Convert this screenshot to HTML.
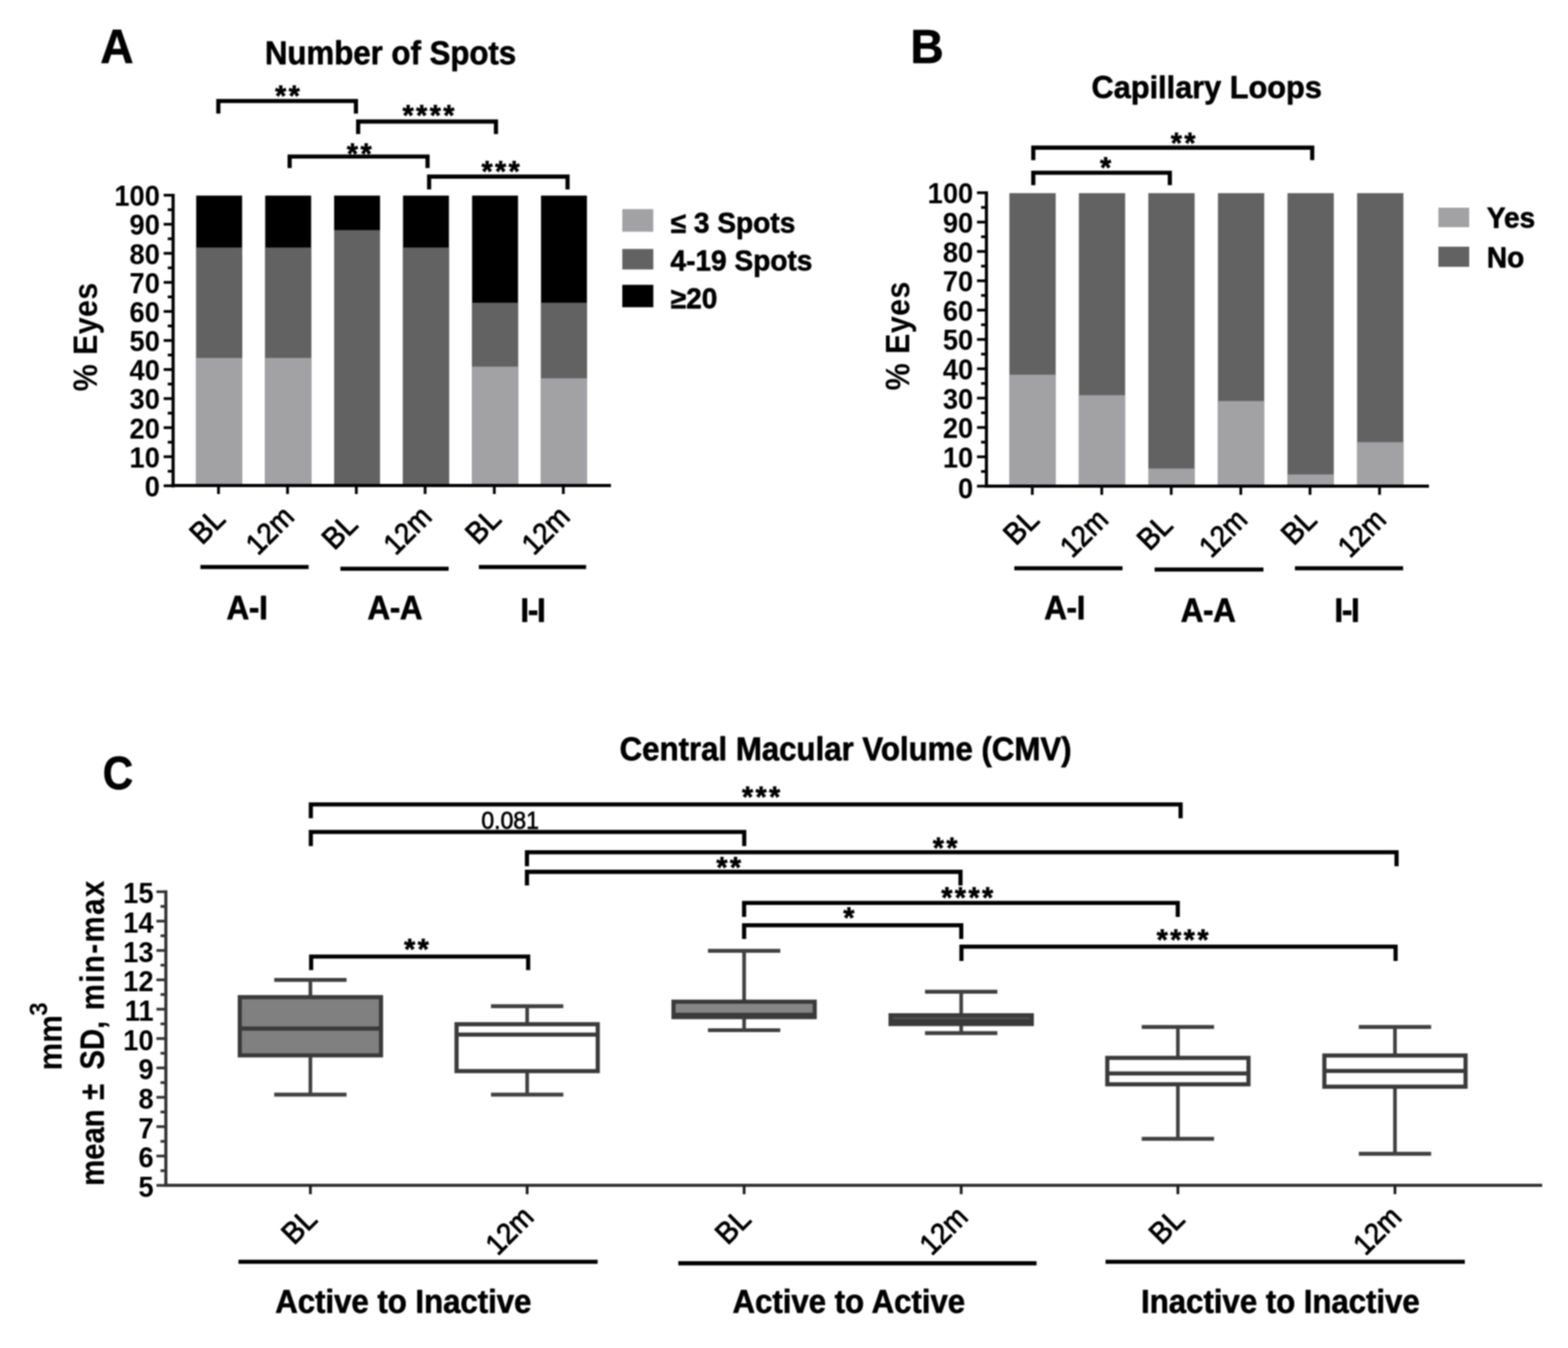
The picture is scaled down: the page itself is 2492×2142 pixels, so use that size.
<!DOCTYPE html>
<html lang="en">
<head>
<meta charset="utf-8">
<title>Figure: Number of Spots, Capillary Loops, Central Macular Volume</title>
<style>
html,body{margin:0;padding:0;background:#fff;}
body{width:2492px;height:2142px;overflow:hidden;}
svg{display:block;font-family:"Liberation Sans",Arial,Helvetica,sans-serif;font-weight:bold;fill:#000;filter:blur(0.8px);}
text{stroke:#000;stroke-width:0.9px;stroke-linejoin:round;}
</style>
</head>
<body>
<svg width="2492" height="2142" viewBox="0 0 2492 2142" role="img" aria-label="Figure with panels A, B and C">
<rect x="0" y="0" width="2492" height="2142" fill="#fff"/>
<g id="panel-a">
<text transform="translate(159.6 99.5) scale(1 1.04)" font-size="73">A</text>
<text transform="translate(620.7 102.2) scale(1 1.04)" font-size="49.6" text-anchor="middle">Number of Spots</text>
<rect x="311.8" y="310.8" width="73" height="461.1" fill="#000"/>
<rect x="311.8" y="393.31" width="73" height="378.59" fill="#626262"/>
<rect x="311.8" y="568.75" width="73" height="203.15" fill="#a2a2a5"/>
<rect x="421.5" y="310.8" width="73" height="461.1" fill="#000"/>
<rect x="421.5" y="393.31" width="73" height="378.59" fill="#626262"/>
<rect x="421.5" y="568.75" width="73" height="203.15" fill="#a2a2a5"/>
<rect x="531" y="310.8" width="73" height="461.1" fill="#000"/>
<rect x="531" y="365.6" width="73" height="406.3" fill="#626262"/>
<rect x="640.5" y="310.8" width="73" height="461.1" fill="#000"/>
<rect x="640.5" y="393.31" width="73" height="378.59" fill="#626262"/>
<rect x="750.3" y="310.8" width="73" height="461.1" fill="#000"/>
<rect x="750.3" y="481.03" width="73" height="290.87" fill="#626262"/>
<rect x="750.3" y="582.6" width="73" height="189.3" fill="#a2a2a5"/>
<rect x="859.8" y="310.8" width="73" height="461.1" fill="#000"/>
<rect x="859.8" y="481.03" width="73" height="290.87" fill="#626262"/>
<rect x="859.8" y="601.07" width="73" height="170.83" fill="#a2a2a5"/>
<line x1="275.1" y1="308" x2="275.1" y2="774.4" stroke="#000" stroke-width="5"/>
<line x1="260.1" y1="771.9" x2="275.1" y2="771.9" stroke="#000" stroke-width="4.4"/>
<text transform="translate(254.1 789.37) scale(1 1.07)" font-size="43.4" text-anchor="end" style="stroke-width:0px">0</text>
<line x1="266.6" y1="748.81" x2="275.1" y2="748.81" stroke="#000" stroke-width="4.4"/>
<line x1="260.1" y1="725.73" x2="275.1" y2="725.73" stroke="#000" stroke-width="4.4"/>
<text transform="translate(254.1 742.7) scale(1 1.07)" font-size="43.4" text-anchor="end" style="stroke-width:0px">10</text>
<line x1="266.6" y1="702.64" x2="275.1" y2="702.64" stroke="#000" stroke-width="4.4"/>
<line x1="260.1" y1="679.56" x2="275.1" y2="679.56" stroke="#000" stroke-width="4.4"/>
<text transform="translate(254.1 696.53) scale(1 1.07)" font-size="43.4" text-anchor="end" style="stroke-width:0px">20</text>
<line x1="266.6" y1="656.47" x2="275.1" y2="656.47" stroke="#000" stroke-width="4.4"/>
<line x1="260.1" y1="633.39" x2="275.1" y2="633.39" stroke="#000" stroke-width="4.4"/>
<text transform="translate(254.1 650.36) scale(1 1.07)" font-size="43.4" text-anchor="end" style="stroke-width:0px">30</text>
<line x1="266.6" y1="610.3" x2="275.1" y2="610.3" stroke="#000" stroke-width="4.4"/>
<line x1="260.1" y1="587.22" x2="275.1" y2="587.22" stroke="#000" stroke-width="4.4"/>
<text transform="translate(254.1 604.19) scale(1 1.07)" font-size="43.4" text-anchor="end" style="stroke-width:0px">40</text>
<line x1="266.6" y1="564.13" x2="275.1" y2="564.13" stroke="#000" stroke-width="4.4"/>
<line x1="260.1" y1="541.05" x2="275.1" y2="541.05" stroke="#000" stroke-width="4.4"/>
<text transform="translate(254.1 558.02) scale(1 1.07)" font-size="43.4" text-anchor="end" style="stroke-width:0px">50</text>
<line x1="266.6" y1="517.96" x2="275.1" y2="517.96" stroke="#000" stroke-width="4.4"/>
<line x1="260.1" y1="494.88" x2="275.1" y2="494.88" stroke="#000" stroke-width="4.4"/>
<text transform="translate(254.1 511.85) scale(1 1.07)" font-size="43.4" text-anchor="end" style="stroke-width:0px">60</text>
<line x1="266.6" y1="471.8" x2="275.1" y2="471.8" stroke="#000" stroke-width="4.4"/>
<line x1="260.1" y1="448.71" x2="275.1" y2="448.71" stroke="#000" stroke-width="4.4"/>
<text transform="translate(254.1 465.68) scale(1 1.07)" font-size="43.4" text-anchor="end" style="stroke-width:0px">70</text>
<line x1="266.6" y1="425.62" x2="275.1" y2="425.62" stroke="#000" stroke-width="4.4"/>
<line x1="260.1" y1="402.54" x2="275.1" y2="402.54" stroke="#000" stroke-width="4.4"/>
<text transform="translate(254.1 419.51) scale(1 1.07)" font-size="43.4" text-anchor="end" style="stroke-width:0px">80</text>
<line x1="266.6" y1="379.45" x2="275.1" y2="379.45" stroke="#000" stroke-width="4.4"/>
<line x1="260.1" y1="356.37" x2="275.1" y2="356.37" stroke="#000" stroke-width="4.4"/>
<text transform="translate(254.1 373.34) scale(1 1.07)" font-size="43.4" text-anchor="end" style="stroke-width:0px">90</text>
<line x1="266.6" y1="333.28" x2="275.1" y2="333.28" stroke="#000" stroke-width="4.4"/>
<line x1="260.1" y1="310.2" x2="275.1" y2="310.2" stroke="#000" stroke-width="4.4"/>
<text transform="translate(254.1 327.17) scale(1 1.07)" font-size="43.4" text-anchor="end" style="stroke-width:0px">100</text>
<line x1="272.6" y1="771.5" x2="971" y2="771.5" stroke="#000" stroke-width="5"/>
<line x1="347.3" y1="771" x2="347.3" y2="785" stroke="#000" stroke-width="4.4"/>
<text transform="translate(360.7 827.5) rotate(-45) scale(1 1.04)" font-size="46" font-weight="normal" text-anchor="end" style="stroke-width:1.3px">BL</text>
<line x1="457" y1="771" x2="457" y2="785" stroke="#000" stroke-width="4.4"/>
<text transform="translate(469.9 824) rotate(-45) scale(1 1.07)" font-size="43.5" font-weight="normal" text-anchor="end" style="stroke-width:1.3px">12m</text>
<line x1="566.3" y1="771" x2="566.3" y2="785" stroke="#000" stroke-width="4.4"/>
<text transform="translate(571.1 836.1) rotate(-45) scale(1 1.04)" font-size="46" font-weight="normal" text-anchor="end" style="stroke-width:1.3px">BL</text>
<line x1="675.6" y1="771" x2="675.6" y2="785" stroke="#000" stroke-width="4.4"/>
<text transform="translate(688.5 824) rotate(-45) scale(1 1.07)" font-size="43.5" font-weight="normal" text-anchor="end" style="stroke-width:1.3px">12m</text>
<line x1="785.6" y1="771" x2="785.6" y2="785" stroke="#000" stroke-width="4.4"/>
<text transform="translate(799 827.5) rotate(-45) scale(1 1.04)" font-size="46" font-weight="normal" text-anchor="end" style="stroke-width:1.3px">BL</text>
<line x1="895.3" y1="771" x2="895.3" y2="785" stroke="#000" stroke-width="4.4"/>
<text transform="translate(908.2 824) rotate(-45) scale(1 1.07)" font-size="43.5" font-weight="normal" text-anchor="end" style="stroke-width:1.3px">12m</text>
<text transform="translate(154 535.2) rotate(-90) scale(1 1.11)" font-size="48.4" text-anchor="middle" letter-spacing="0.6" style="stroke-width:0px">% Eyes</text>
<path d="M347 180.5 V160.5 H565.7 V180.5" fill="none" stroke="#000" stroke-width="6.6"/>
<text x="437.23" y="167.59" font-size="45.5" letter-spacing="3.9">**</text>
<path d="M569.2 213 V193.1 H788.2 V213" fill="none" stroke="#000" stroke-width="6.6"/>
<text x="639.73" y="199.19" font-size="45.5" letter-spacing="3.9">****</text>
<path d="M460.3 267 V248.8 H679.5 V267" fill="none" stroke="#000" stroke-width="6.6"/>
<text x="551.33" y="260" font-size="45.5" letter-spacing="3.9">**</text>
<path d="M682 301 V280.6 H902 V301" fill="none" stroke="#000" stroke-width="6.6"/>
<text x="765.13" y="288" font-size="45.5" letter-spacing="3.9">***</text>
<rect x="989" y="332.3" width="49.3" height="36" fill="#a2a2a5"/>
<rect x="989" y="395.6" width="49.3" height="32.6" fill="#626262"/>
<rect x="989" y="452.6" width="49.3" height="35.6" fill="#000"/>
<text transform="translate(1066 369.6) scale(1 1.04)" font-size="44.6">≤ 3 Spots</text>
<text transform="translate(1065.6 429.6) scale(1 1.04)" font-size="44.6">4-19 Spots</text>
<text transform="translate(1066 489.6) scale(1 1.04)" font-size="44.6">≥20</text>
<line x1="318.5" y1="901" x2="490.5" y2="901" stroke="#000" stroke-width="6.4"/>
<text transform="translate(392.5 984) scale(1 1.07)" font-size="50" text-anchor="middle" letter-spacing="-0.6">A-I</text>
<line x1="541" y1="903.7" x2="713" y2="903.7" stroke="#000" stroke-width="6.4"/>
<text transform="translate(627.5 984) scale(1 1.07)" font-size="50" text-anchor="middle" letter-spacing="-0.6">A-A</text>
<line x1="761" y1="901" x2="931.5" y2="901" stroke="#000" stroke-width="6.4"/>
<text transform="translate(846.2 987.5) scale(1 1.07)" font-size="50" text-anchor="middle" letter-spacing="-2">I-I</text>
</g>
<g id="panel-b">
<text transform="translate(1447 99.5) scale(1 1.04)" font-size="73">B</text>
<text transform="translate(1917.8 156) scale(1 1.04)" font-size="48.8" text-anchor="middle">Capillary Loops</text>
<rect x="1604.2" y="306.9" width="73.6" height="465.6" fill="#626262"/>
<rect x="1604.2" y="595.34" width="73.6" height="177.16" fill="#a2a2a5"/>
<rect x="1714.6" y="306.9" width="73.6" height="465.6" fill="#626262"/>
<rect x="1714.6" y="627.98" width="73.6" height="144.52" fill="#a2a2a5"/>
<rect x="1825" y="306.9" width="73.6" height="465.6" fill="#626262"/>
<rect x="1825" y="744.53" width="73.6" height="27.97" fill="#a2a2a5"/>
<rect x="1935.6" y="306.9" width="73.6" height="465.6" fill="#626262"/>
<rect x="1935.6" y="637.3" width="73.6" height="135.2" fill="#a2a2a5"/>
<rect x="2046.2" y="306.9" width="73.6" height="465.6" fill="#626262"/>
<rect x="2046.2" y="753.85" width="73.6" height="18.65" fill="#a2a2a5"/>
<rect x="2156.8" y="306.9" width="73.6" height="465.6" fill="#626262"/>
<rect x="2156.8" y="702.57" width="73.6" height="69.93" fill="#a2a2a5"/>
<line x1="1567.7" y1="304.1" x2="1567.7" y2="775" stroke="#000" stroke-width="5"/>
<line x1="1552.7" y1="772.5" x2="1567.7" y2="772.5" stroke="#000" stroke-width="4.4"/>
<text transform="translate(1546.7 792.47) scale(1 1.07)" font-size="43.4" text-anchor="end" style="stroke-width:0px">0</text>
<line x1="1559.2" y1="749.19" x2="1567.7" y2="749.19" stroke="#000" stroke-width="4.4"/>
<line x1="1552.7" y1="725.88" x2="1567.7" y2="725.88" stroke="#000" stroke-width="4.4"/>
<text transform="translate(1546.7 742.95) scale(1 1.07)" font-size="43.4" text-anchor="end" style="stroke-width:0px">10</text>
<line x1="1559.2" y1="702.57" x2="1567.7" y2="702.57" stroke="#000" stroke-width="4.4"/>
<line x1="1552.7" y1="679.26" x2="1567.7" y2="679.26" stroke="#000" stroke-width="4.4"/>
<text transform="translate(1546.7 696.33) scale(1 1.07)" font-size="43.4" text-anchor="end" style="stroke-width:0px">20</text>
<line x1="1559.2" y1="655.95" x2="1567.7" y2="655.95" stroke="#000" stroke-width="4.4"/>
<line x1="1552.7" y1="632.64" x2="1567.7" y2="632.64" stroke="#000" stroke-width="4.4"/>
<text transform="translate(1546.7 649.71) scale(1 1.07)" font-size="43.4" text-anchor="end" style="stroke-width:0px">30</text>
<line x1="1559.2" y1="609.33" x2="1567.7" y2="609.33" stroke="#000" stroke-width="4.4"/>
<line x1="1552.7" y1="586.02" x2="1567.7" y2="586.02" stroke="#000" stroke-width="4.4"/>
<text transform="translate(1546.7 603.09) scale(1 1.07)" font-size="43.4" text-anchor="end" style="stroke-width:0px">40</text>
<line x1="1559.2" y1="562.71" x2="1567.7" y2="562.71" stroke="#000" stroke-width="4.4"/>
<line x1="1552.7" y1="539.4" x2="1567.7" y2="539.4" stroke="#000" stroke-width="4.4"/>
<text transform="translate(1546.7 556.47) scale(1 1.07)" font-size="43.4" text-anchor="end" style="stroke-width:0px">50</text>
<line x1="1559.2" y1="516.09" x2="1567.7" y2="516.09" stroke="#000" stroke-width="4.4"/>
<line x1="1552.7" y1="492.78" x2="1567.7" y2="492.78" stroke="#000" stroke-width="4.4"/>
<text transform="translate(1546.7 509.85) scale(1 1.07)" font-size="43.4" text-anchor="end" style="stroke-width:0px">60</text>
<line x1="1559.2" y1="469.47" x2="1567.7" y2="469.47" stroke="#000" stroke-width="4.4"/>
<line x1="1552.7" y1="446.16" x2="1567.7" y2="446.16" stroke="#000" stroke-width="4.4"/>
<text transform="translate(1546.7 463.23) scale(1 1.07)" font-size="43.4" text-anchor="end" style="stroke-width:0px">70</text>
<line x1="1559.2" y1="422.85" x2="1567.7" y2="422.85" stroke="#000" stroke-width="4.4"/>
<line x1="1552.7" y1="399.54" x2="1567.7" y2="399.54" stroke="#000" stroke-width="4.4"/>
<text transform="translate(1546.7 416.61) scale(1 1.07)" font-size="43.4" text-anchor="end" style="stroke-width:0px">80</text>
<line x1="1559.2" y1="376.23" x2="1567.7" y2="376.23" stroke="#000" stroke-width="4.4"/>
<line x1="1552.7" y1="352.92" x2="1567.7" y2="352.92" stroke="#000" stroke-width="4.4"/>
<text transform="translate(1546.7 369.99) scale(1 1.07)" font-size="43.4" text-anchor="end" style="stroke-width:0px">90</text>
<line x1="1559.2" y1="329.61" x2="1567.7" y2="329.61" stroke="#000" stroke-width="4.4"/>
<line x1="1552.7" y1="306.3" x2="1567.7" y2="306.3" stroke="#000" stroke-width="4.4"/>
<text transform="translate(1546.7 323.37) scale(1 1.07)" font-size="43.4" text-anchor="end" style="stroke-width:0px">100</text>
<line x1="1565.2" y1="772.4" x2="2271" y2="772.4" stroke="#000" stroke-width="5"/>
<line x1="1640.6" y1="772.3" x2="1640.6" y2="786.3" stroke="#000" stroke-width="4.4"/>
<text transform="translate(1654 828.8) rotate(-45) scale(1 1.04)" font-size="46" font-weight="normal" text-anchor="end" style="stroke-width:1.3px">BL</text>
<line x1="1751" y1="772.3" x2="1751" y2="786.3" stroke="#000" stroke-width="4.4"/>
<text transform="translate(1763.9 828.3) rotate(-45) scale(1 1.07)" font-size="43.5" font-weight="normal" text-anchor="end" style="stroke-width:1.3px">12m</text>
<line x1="1861.4" y1="772.3" x2="1861.4" y2="786.3" stroke="#000" stroke-width="4.4"/>
<text transform="translate(1866.4 837.2) rotate(-45) scale(1 1.04)" font-size="46" font-weight="normal" text-anchor="end" style="stroke-width:1.3px">BL</text>
<line x1="1972" y1="772.3" x2="1972" y2="786.3" stroke="#000" stroke-width="4.4"/>
<text transform="translate(1984.9 828.3) rotate(-45) scale(1 1.07)" font-size="43.5" font-weight="normal" text-anchor="end" style="stroke-width:1.3px">12m</text>
<line x1="2082" y1="772.3" x2="2082" y2="786.3" stroke="#000" stroke-width="4.4"/>
<text transform="translate(2095.4 828.8) rotate(-45) scale(1 1.04)" font-size="46" font-weight="normal" text-anchor="end" style="stroke-width:1.3px">BL</text>
<line x1="2192.5" y1="772.3" x2="2192.5" y2="786.3" stroke="#000" stroke-width="4.4"/>
<text transform="translate(2205.4 828.3) rotate(-45) scale(1 1.07)" font-size="43.5" font-weight="normal" text-anchor="end" style="stroke-width:1.3px">12m</text>
<text transform="translate(1445 533.6) rotate(-90) scale(1 1.11)" font-size="48.4" text-anchor="middle" letter-spacing="0.6" style="stroke-width:0px">% Eyes</text>
<path d="M1642.2 254.5 V234.6 H2085.5 V254.5" fill="none" stroke="#000" stroke-width="6.6"/>
<text x="1860.63" y="242.69" font-size="45.5" letter-spacing="3.9">**</text>
<path d="M1642.2 294.3 V274.5 H1859.2 V294.3" fill="none" stroke="#000" stroke-width="6.6"/>
<text x="1748.33" y="281.59" font-size="45.5" letter-spacing="3.9">*</text>
<rect x="2286" y="330" width="49" height="31" fill="#a2a2a5"/>
<rect x="2286" y="392" width="49" height="32" fill="#626262"/>
<text transform="translate(2363 361.5) scale(1 1.04)" font-size="44.6">Yes</text>
<text transform="translate(2363 424.5) scale(1 1.04)" font-size="44.6">No</text>
<line x1="1612" y1="903" x2="1784" y2="903" stroke="#000" stroke-width="6.4"/>
<text transform="translate(1692 984) scale(1 1.07)" font-size="50" text-anchor="middle" letter-spacing="-0.6">A-I</text>
<line x1="1835" y1="905" x2="2008" y2="905" stroke="#000" stroke-width="6.4"/>
<text transform="translate(1920 988) scale(1 1.07)" font-size="50" text-anchor="middle" letter-spacing="-0.6">A-A</text>
<line x1="2058" y1="903" x2="2230" y2="903" stroke="#000" stroke-width="6.4"/>
<text transform="translate(2140 988) scale(1 1.07)" font-size="50" text-anchor="middle" letter-spacing="-2">I-I</text>
</g>
<g id="panel-c">
<text transform="translate(163.2 1254) scale(1 1.12)" font-size="67">C</text>
<text transform="translate(1343.9 1207.6) scale(1 1.04)" font-size="49.6" text-anchor="middle">Central Macular Volume (CMV)</text>
<line x1="263.6" y1="1414.8" x2="263.6" y2="1886.1" stroke="#333" stroke-width="5"/>
<line x1="248.6" y1="1883.6" x2="263.6" y2="1883.6" stroke="#333" stroke-width="4.4"/>
<text transform="translate(244.1 1901.97) scale(1 1.07)" font-size="43.4" text-anchor="end" style="stroke-width:0px">5</text>
<line x1="255.1" y1="1860.27" x2="263.6" y2="1860.27" stroke="#333" stroke-width="4.4"/>
<line x1="248.6" y1="1836.94" x2="263.6" y2="1836.94" stroke="#333" stroke-width="4.4"/>
<text transform="translate(244.1 1855.31) scale(1 1.07)" font-size="43.4" text-anchor="end" style="stroke-width:0px">6</text>
<line x1="255.1" y1="1813.61" x2="263.6" y2="1813.61" stroke="#333" stroke-width="4.4"/>
<line x1="248.6" y1="1790.28" x2="263.6" y2="1790.28" stroke="#333" stroke-width="4.4"/>
<text transform="translate(244.1 1808.65) scale(1 1.07)" font-size="43.4" text-anchor="end" style="stroke-width:0px">7</text>
<line x1="255.1" y1="1766.95" x2="263.6" y2="1766.95" stroke="#333" stroke-width="4.4"/>
<line x1="248.6" y1="1743.62" x2="263.6" y2="1743.62" stroke="#333" stroke-width="4.4"/>
<text transform="translate(244.1 1761.99) scale(1 1.07)" font-size="43.4" text-anchor="end" style="stroke-width:0px">8</text>
<line x1="255.1" y1="1720.29" x2="263.6" y2="1720.29" stroke="#333" stroke-width="4.4"/>
<line x1="248.6" y1="1696.96" x2="263.6" y2="1696.96" stroke="#333" stroke-width="4.4"/>
<text transform="translate(244.1 1715.33) scale(1 1.07)" font-size="43.4" text-anchor="end" style="stroke-width:0px">9</text>
<line x1="255.1" y1="1673.63" x2="263.6" y2="1673.63" stroke="#333" stroke-width="4.4"/>
<line x1="248.6" y1="1650.3" x2="263.6" y2="1650.3" stroke="#333" stroke-width="4.4"/>
<text transform="translate(244.1 1668.67) scale(1 1.07)" font-size="43.4" text-anchor="end" style="stroke-width:0px">10</text>
<line x1="255.1" y1="1626.97" x2="263.6" y2="1626.97" stroke="#333" stroke-width="4.4"/>
<line x1="248.6" y1="1603.64" x2="263.6" y2="1603.64" stroke="#333" stroke-width="4.4"/>
<text transform="translate(244.1 1622.01) scale(1 1.07)" font-size="43.4" text-anchor="end" style="stroke-width:0px">11</text>
<line x1="255.1" y1="1580.31" x2="263.6" y2="1580.31" stroke="#333" stroke-width="4.4"/>
<line x1="248.6" y1="1556.98" x2="263.6" y2="1556.98" stroke="#333" stroke-width="4.4"/>
<text transform="translate(244.1 1575.35) scale(1 1.07)" font-size="43.4" text-anchor="end" style="stroke-width:0px">12</text>
<line x1="255.1" y1="1533.65" x2="263.6" y2="1533.65" stroke="#333" stroke-width="4.4"/>
<line x1="248.6" y1="1510.32" x2="263.6" y2="1510.32" stroke="#333" stroke-width="4.4"/>
<text transform="translate(244.1 1528.69) scale(1 1.07)" font-size="43.4" text-anchor="end" style="stroke-width:0px">13</text>
<line x1="255.1" y1="1486.99" x2="263.6" y2="1486.99" stroke="#333" stroke-width="4.4"/>
<line x1="248.6" y1="1463.66" x2="263.6" y2="1463.66" stroke="#333" stroke-width="4.4"/>
<text transform="translate(244.1 1482.03) scale(1 1.07)" font-size="43.4" text-anchor="end" style="stroke-width:0px">14</text>
<line x1="255.1" y1="1440.33" x2="263.6" y2="1440.33" stroke="#333" stroke-width="4.4"/>
<line x1="248.6" y1="1417" x2="263.6" y2="1417" stroke="#333" stroke-width="4.4"/>
<text transform="translate(244.1 1435.37) scale(1 1.07)" font-size="43.4" text-anchor="end" style="stroke-width:0px">15</text>
<line x1="261.1" y1="1883.6" x2="2451" y2="1883.6" stroke="#333" stroke-width="5"/>
<line x1="493.3" y1="1883.6" x2="493.3" y2="1897.6" stroke="#1c1c1c" stroke-width="4.4"/>
<text transform="translate(506.7 1940.1) rotate(-45) scale(1 1.04)" font-size="46" font-weight="normal" text-anchor="end" style="stroke-width:1.3px">BL</text>
<line x1="837.8" y1="1883.6" x2="837.8" y2="1897.6" stroke="#1c1c1c" stroke-width="4.4"/>
<text transform="translate(850.7 1936.6) rotate(-45) scale(1 1.07)" font-size="43.5" font-weight="normal" text-anchor="end" style="stroke-width:1.3px">12m</text>
<line x1="1182.6" y1="1883.6" x2="1182.6" y2="1897.6" stroke="#1c1c1c" stroke-width="4.4"/>
<text transform="translate(1196 1940.1) rotate(-45) scale(1 1.04)" font-size="46" font-weight="normal" text-anchor="end" style="stroke-width:1.3px">BL</text>
<line x1="1527.6" y1="1883.6" x2="1527.6" y2="1897.6" stroke="#1c1c1c" stroke-width="4.4"/>
<text transform="translate(1540.5 1936.6) rotate(-45) scale(1 1.07)" font-size="43.5" font-weight="normal" text-anchor="end" style="stroke-width:1.3px">12m</text>
<line x1="1872" y1="1883.6" x2="1872" y2="1897.6" stroke="#1c1c1c" stroke-width="4.4"/>
<text transform="translate(1885.4 1940.1) rotate(-45) scale(1 1.04)" font-size="46" font-weight="normal" text-anchor="end" style="stroke-width:1.3px">BL</text>
<line x1="2217" y1="1883.6" x2="2217" y2="1897.6" stroke="#1c1c1c" stroke-width="4.4"/>
<text transform="translate(2229.9 1936.6) rotate(-45) scale(1 1.07)" font-size="43.5" font-weight="normal" text-anchor="end" style="stroke-width:1.3px">12m</text>
<text transform="translate(97.6 1701) rotate(-90) scale(1 1.07)" font-size="49.6" style="stroke-width:0px">mm<tspan x="87" dy="-21.4" font-size="38">3</tspan></text>
<text transform="translate(164.8 1884.3) rotate(-90) scale(1 1.16)" font-size="46.5" style="stroke-width:0.3px"><tspan x="0">mean </tspan><tspan x="136.6">± </tspan><tspan x="184.8">SD, </tspan><tspan x="279" letter-spacing="2.4">min-max</tspan></text>
<line x1="493.3" y1="1557.2" x2="493.3" y2="1584.5" stroke="#404040" stroke-width="5.8"/>
<line x1="493.3" y1="1677" x2="493.3" y2="1739.4" stroke="#404040" stroke-width="5.8"/>
<line x1="435.8" y1="1557.2" x2="550.8" y2="1557.2" stroke="#404040" stroke-width="6.2"/>
<line x1="435.8" y1="1739.4" x2="550.8" y2="1739.4" stroke="#404040" stroke-width="6.2"/>
<rect x="381.1" y="1584.5" width="224.4" height="92.5" fill="#808080" stroke="#3a3a3a" stroke-width="6.6"/>
<line x1="381.1" y1="1634.4" x2="605.5" y2="1634.4" stroke="#3a3a3a" stroke-width="6.6"/>
<line x1="837.8" y1="1598.8" x2="837.8" y2="1627.5" stroke="#404040" stroke-width="5.8"/>
<line x1="837.8" y1="1702" x2="837.8" y2="1739.4" stroke="#404040" stroke-width="5.8"/>
<line x1="780.3" y1="1598.8" x2="895.3" y2="1598.8" stroke="#404040" stroke-width="6.2"/>
<line x1="780.3" y1="1739.4" x2="895.3" y2="1739.4" stroke="#404040" stroke-width="6.2"/>
<rect x="725.6" y="1627.5" width="224.4" height="74.5" fill="#fff" stroke="#3a3a3a" stroke-width="6.6"/>
<line x1="725.6" y1="1644" x2="950" y2="1644" stroke="#3a3a3a" stroke-width="6.6"/>
<line x1="1182.6" y1="1510.9" x2="1182.6" y2="1591.7" stroke="#404040" stroke-width="5.8"/>
<line x1="1182.6" y1="1616.2" x2="1182.6" y2="1637" stroke="#404040" stroke-width="5.8"/>
<line x1="1125.1" y1="1510.9" x2="1240.1" y2="1510.9" stroke="#404040" stroke-width="6.2"/>
<line x1="1125.1" y1="1637" x2="1240.1" y2="1637" stroke="#404040" stroke-width="6.2"/>
<rect x="1070.4" y="1591.7" width="224.4" height="24.5" fill="#868686" stroke="#3a3a3a" stroke-width="6.6"/>
<line x1="1070.4" y1="1612.5" x2="1294.8" y2="1612.5" stroke="#3a3a3a" stroke-width="6.6"/>
<line x1="1527.6" y1="1575.9" x2="1527.6" y2="1613.3" stroke="#404040" stroke-width="5.8"/>
<line x1="1527.6" y1="1627.2" x2="1527.6" y2="1641.7" stroke="#404040" stroke-width="5.8"/>
<line x1="1470.1" y1="1575.9" x2="1585.1" y2="1575.9" stroke="#404040" stroke-width="6.2"/>
<line x1="1470.1" y1="1641.7" x2="1585.1" y2="1641.7" stroke="#404040" stroke-width="6.2"/>
<rect x="1415.4" y="1613.3" width="224.4" height="13.9" fill="#555" stroke="#3a3a3a" stroke-width="6.6"/>
<line x1="1415.4" y1="1622.5" x2="1639.8" y2="1622.5" stroke="#3a3a3a" stroke-width="6.6"/>
<line x1="1872" y1="1631.9" x2="1872" y2="1681" stroke="#404040" stroke-width="5.8"/>
<line x1="1872" y1="1723" x2="1872" y2="1809.6" stroke="#404040" stroke-width="5.8"/>
<line x1="1814.5" y1="1631.9" x2="1929.5" y2="1631.9" stroke="#404040" stroke-width="6.2"/>
<line x1="1814.5" y1="1809.6" x2="1929.5" y2="1809.6" stroke="#404040" stroke-width="6.2"/>
<rect x="1759.8" y="1681" width="224.4" height="42" fill="#fff" stroke="#3a3a3a" stroke-width="6.6"/>
<line x1="1759.8" y1="1705.7" x2="1984.2" y2="1705.7" stroke="#3a3a3a" stroke-width="6.6"/>
<line x1="2217" y1="1631.9" x2="2217" y2="1677.2" stroke="#404040" stroke-width="5.8"/>
<line x1="2217" y1="1726.8" x2="2217" y2="1833.3" stroke="#404040" stroke-width="5.8"/>
<line x1="2159.5" y1="1631.9" x2="2274.5" y2="1631.9" stroke="#404040" stroke-width="6.2"/>
<line x1="2159.5" y1="1833.3" x2="2274.5" y2="1833.3" stroke="#404040" stroke-width="6.2"/>
<rect x="2104.8" y="1677.2" width="224.4" height="49.6" fill="#fff" stroke="#3a3a3a" stroke-width="6.6"/>
<line x1="2104.8" y1="1701.8" x2="2329.2" y2="1701.8" stroke="#3a3a3a" stroke-width="6.6"/>
<path d="M494 1300.3 V1278.3 H1876.3 V1300.3" fill="none" stroke="#000" stroke-width="6.6"/>
<text x="1179.13" y="1282.39" font-size="45.5" letter-spacing="3.9">***</text>
<path d="M494 1344.5 V1322 H1182.8 V1344.5" fill="none" stroke="#000" stroke-width="6.6"/>
<text transform="translate(810.7 1317.3) scale(1 1.04)" font-size="36.6" font-weight="normal" text-anchor="middle" style="stroke-width:1.0px">0.081</text>
<path d="M837.5 1376.5 V1354.3 H2219.5 V1376.5" fill="none" stroke="#000" stroke-width="6.6"/>
<text x="1482.53" y="1362.99" font-size="45.5" letter-spacing="3.9">**</text>
<path d="M837.5 1407 V1385.4 H1526.5 V1407" fill="none" stroke="#000" stroke-width="6.6"/>
<text x="1138.53" y="1393.99" font-size="45.5" letter-spacing="3.9">**</text>
<path d="M1182.6 1457 V1434.8 H1871.8 V1457" fill="none" stroke="#000" stroke-width="6.6"/>
<text x="1496.03" y="1442.39" font-size="45.5" letter-spacing="3.9">****</text>
<path d="M1182.6 1492 V1470.2 H1527.7 V1492" fill="none" stroke="#000" stroke-width="6.6"/>
<text x="1340.13" y="1473.99" font-size="45.5" letter-spacing="3.9">*</text>
<path d="M1528 1527 V1504.2 H2218 V1527" fill="none" stroke="#000" stroke-width="6.6"/>
<text x="1838.13" y="1508.89" font-size="45.5" letter-spacing="3.9">****</text>
<path d="M494.5 1541.6 V1520 H839.4 V1541.6" fill="none" stroke="#000" stroke-width="6.6"/>
<text x="642.13" y="1523.89" font-size="45.5" letter-spacing="3.9">**</text>
<line x1="379" y1="2005" x2="949.8" y2="2005" stroke="#000" stroke-width="6.6"/>
<text transform="translate(641 2085.6) scale(1 1.04)" font-size="49.5" text-anchor="middle">Active to Inactive</text>
<line x1="1078" y1="2007.4" x2="1647.4" y2="2007.4" stroke="#000" stroke-width="6.6"/>
<text transform="translate(1349 2085.6) scale(1 1.04)" font-size="49.5" text-anchor="middle">Active to Active</text>
<line x1="1757" y1="2005" x2="2328" y2="2005" stroke="#000" stroke-width="6.6"/>
<text transform="translate(2035 2085.6) scale(1 1.04)" font-size="49.5" text-anchor="middle">Inactive to Inactive</text>
</g>
</svg>
</body>
</html>
